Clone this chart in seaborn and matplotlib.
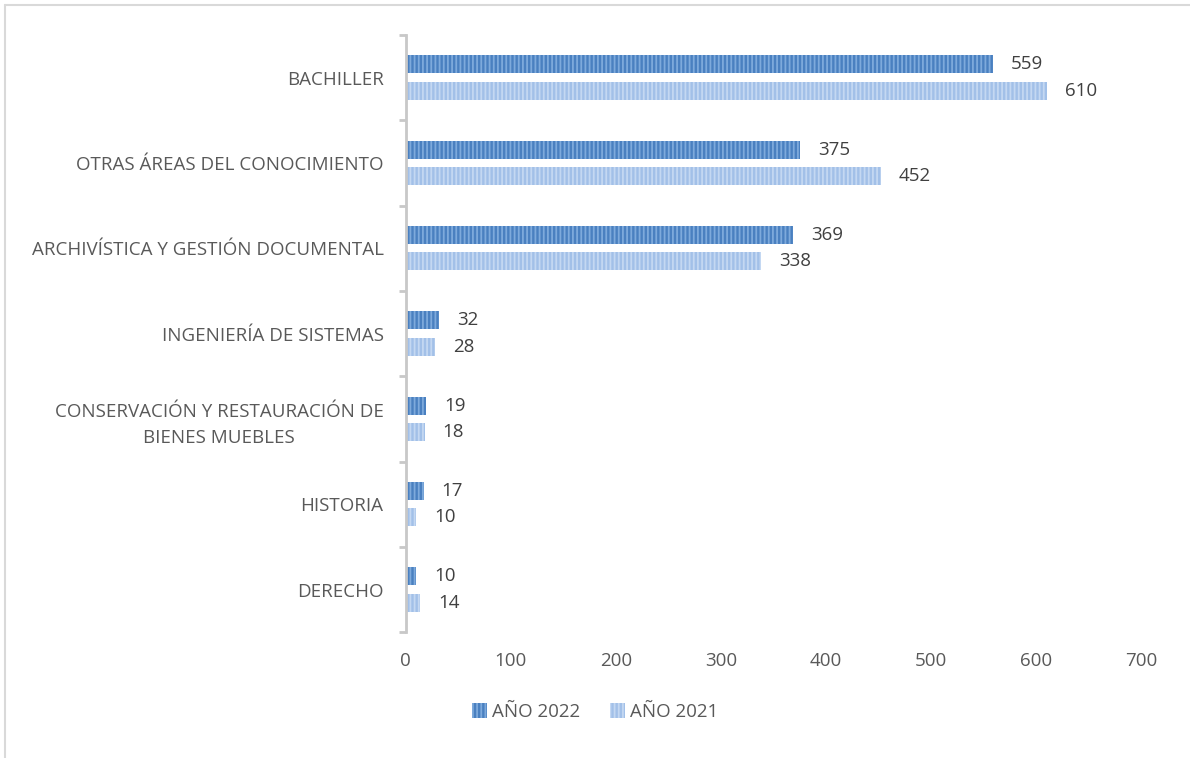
import matplotlib
matplotlib.use("Agg")
import matplotlib.pyplot as plt
from matplotlib.lines import Line2D
from matplotlib.patches import Patch
import seaborn as sns
import pandas as pd
import numpy as np

categories = [
    "BACHILLER",
    "OTRAS ÁREAS DEL CONOCIMIENTO",
    "ARCHIVÍSTICA Y GESTIÓN DOCUMENTAL",
    "INGENIERÍA DE SISTEMAS",
    "CONSERVACIÓN Y RESTAURACIÓN DE\nBIENES MUEBLES",
    "HISTORIA",
    "DERECHO",
]
series_names = ["AÑO 2022", "AÑO 2021"]
values_2022 = [559, 375, 369, 32, 19, 17, 10]
values_2021 = [610, 452, 338, 28, 18, 10, 14]
x_ticks = [0, 100, 200, 300, 400, 500, 600, 700]

df = pd.DataFrame({
    "categoria": categories * 2,
    "serie": [series_names[0]] * len(categories) + [series_names[1]] * len(categories),
    "valor": values_2022 + values_2021,
})

sns.set_theme(style="white")
plt.rcParams["font.family"] = ["Open Sans", "DejaVu Sans"]
text_color = "#595959"
fs = 13.5

fill_colors = {"AÑO 2022": "#4a80c0", "AÑO 2021": "#a2c0e8"}
stripe_colors = {"AÑO 2022": "#7eaadc", "AÑO 2021": "#c4d8f2"}
plt.rcParams["hatch.linewidth"] = 1.3

fig = plt.figure(figsize=(11.9, 7.58), dpi=100)
ax = fig.add_axes([0.341, 0.166, 0.618, 0.788])

sns.barplot(
    data=df, y="categoria", x="valor", hue="serie",
    order=categories, hue_order=series_names,
    palette=fill_colors, orient="h", width=0.62, gap=0.32,
    ax=ax, legend=False, saturation=1,
)

for container, name in zip(ax.containers, series_names):
    for bar in container:
        bar.set_hatch("||||")
        bar.set_edgecolor(stripe_colors[name])
        bar.set_linewidth(0)
    ax.bar_label(container, labels=[str(int(v)) for v in container.datavalues],
                 padding=13, fontsize=fs, color="#404040")

ax.set_xlim(0, 700)
ax.set_ylim(len(categories) - 0.5, -0.5)
ax.set_xticks(x_ticks)
ax.set_xticklabels([str(t) for t in x_ticks], fontsize=fs, color=text_color)
ax.tick_params(axis="x", length=0, pad=14)

# category boundaries as tick marks, labels centered between them
ax.set_yticks(np.arange(-0.5, len(categories), 1.0))
ax.set_yticklabels([])
ax.set_yticks(np.arange(len(categories)), minor=True)
ax.set_yticklabels(categories, minor=True, fontsize=fs, color=text_color,
                   multialignment="center", linespacing=1.55)
ax.tick_params(axis="y", which="major", left=True, length=5, width=2,
               color="#c8c8c8", direction="out")
ax.tick_params(axis="y", which="minor", left=True, length=0, pad=16)

ax.set_xlabel("")
ax.set_ylabel("")
for side in ["top", "right", "bottom"]:
    ax.spines[side].set_visible(False)
ax.spines["left"].set_color("#c8c8c8")
ax.spines["left"].set_linewidth(2)
ax.grid(False)

handles = [
    Patch(facecolor=fill_colors[n], edgecolor=stripe_colors[n], hatch="||||", linewidth=0)
    for n in series_names
]
fig.legend(handles, series_names, loc="center", bbox_to_anchor=(0.500, 0.061),
           ncol=2, frameon=False, fontsize=fs, labelcolor=text_color,
           handlelength=0.8, handleheight=0.9, handletextpad=0.25, columnspacing=1.6)

# chart frame
fig.add_artist(Line2D([0.0045, 1.0], [0.9935, 0.9935], transform=fig.transFigure,
                      color="#d9d9d9", linewidth=1.5))
fig.add_artist(Line2D([0.0045, 0.0045], [0.0, 0.9935], transform=fig.transFigure,
                      color="#d9d9d9", linewidth=1.5))

fig.savefig("out.png", dpi=100, facecolor="white")
